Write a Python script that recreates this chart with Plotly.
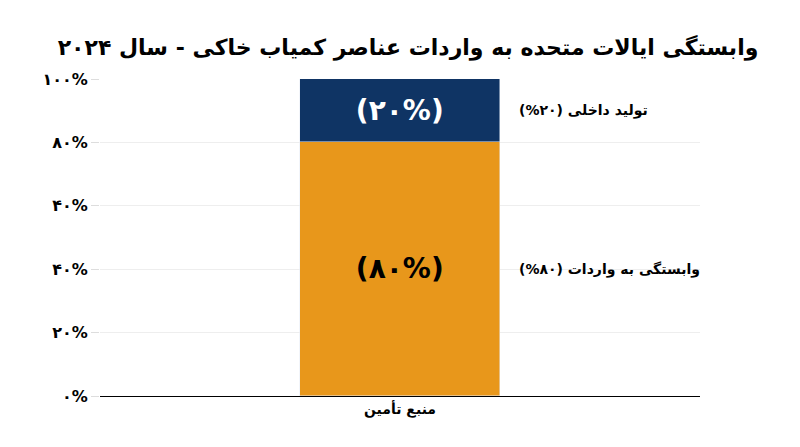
import plotly.graph_objects as go

category = ["منبع تأمین"]
imports = [80]
domestic = [20]
tick_vals = [0, 20, 40, 60, 80, 100]
tick_text = ["<b>۰%</b>", "<b>۲۰%</b>", "<b>۴۰%</b>", "<b>۴۰%</b>", "<b>۸۰%</b>", "<b>۱۰۰%</b>"]
bar_labels = ["<b>(۸۰%)</b>", "<b>(۲۰%)</b>"]
legend_texts = ["<b>وابستگی به واردات (۸۰%)</b>", "<b>تولید داخلی (۲۰%)</b>"]

font = "DejaVu Sans"
fig = go.Figure()
fig.add_trace(go.Bar(x=category, y=imports, marker_color="#E8971B", width=1,
                     text=[bar_labels[0]], textposition="inside", insidetextanchor="middle",
                     textfont=dict(size=28, color="black", family=font)))
fig.add_trace(go.Bar(x=category, y=domestic, marker_color="#0F3464", width=1,
                     text=[bar_labels[1]], textposition="inside", insidetextanchor="middle",
                     textfont=dict(size=28, color="white", family=font)))

for txt, yv in zip(legend_texts, [imports[0] / 2, imports[0] + domestic[0] / 2]):
    fig.add_annotation(x=0.695, xref="paper", xanchor="left", y=yv, yref="y",
                       text=txt, showarrow=False, font=dict(size=14, color="black", family=font))

fig.update_layout(
    barmode="stack", width=800, height=447, showlegend=False,
    plot_bgcolor="white", paper_bgcolor="white",
    margin=dict(l=92, r=108, t=71, b=59),
    title=dict(text="<b>وابستگی ایالات متحده به واردات عناصر کمیاب خاکی - سال ۲۰۲۴</b>",
               x=0.5, y=0.93, xanchor="center", font=dict(size=22, color="black", family=font)),
    font=dict(family=font, color="black"),
    bargap=0,
)
fig.update_xaxes(range=[-1.5, 1.5], showline=True, linecolor="black", linewidth=1,
                 tickfont=dict(size=14, color="black"), ticks="",
                 tickvals=category, ticktext=["<b>" + category[0] + "</b>"])
fig.update_yaxes(range=[0, 100], tickvals=tick_vals, ticktext=tick_text,
                 showgrid=True, gridcolor="#eeeeee", zeroline=False,
                 ticks="outside", ticklen=8, tickcolor="#dddddd",
                 tickfont=dict(size=16, color="black"))
fig.write_html("out.html")
